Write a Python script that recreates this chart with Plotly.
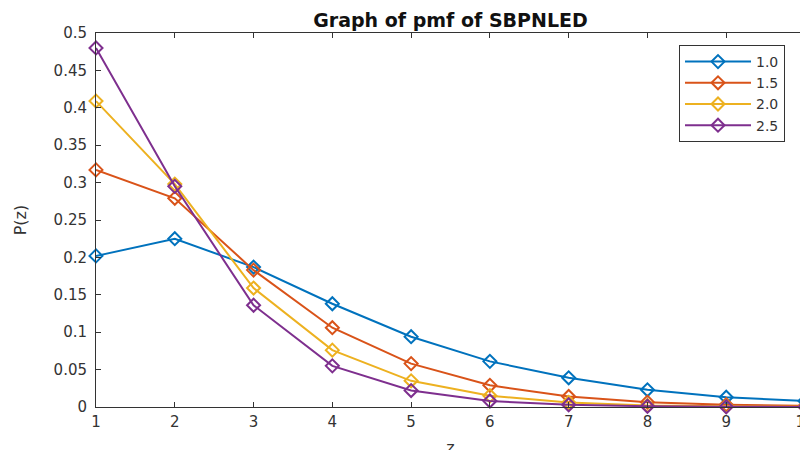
import plotly.graph_objects as go

z = [1, 2, 3, 4, 5, 6, 7, 8, 9, 10]
series_names = ["1.0", "1.5", "2.0", "2.5"]
p_10 = [0.202, 0.225, 0.187, 0.138, 0.094, 0.061, 0.039, 0.023, 0.013, 0.008]
p_15 = [0.317, 0.279, 0.183, 0.106, 0.058, 0.029, 0.014, 0.0065, 0.003, 0.0015]
p_20 = [0.409, 0.298, 0.159, 0.076, 0.035, 0.015, 0.006, 0.002, 0.001, 0.0004]
p_25 = [0.480, 0.295, 0.136, 0.055, 0.022, 0.008, 0.003, 0.001, 0.0003, 0.0001]
y_ticks = [0, 0.05, 0.1, 0.15, 0.2, 0.25, 0.3, 0.35, 0.4, 0.45, 0.5]
y_tick_labels = ["0", "0.05", "0.1", "0.15", "0.2", "0.25", "0.3", "0.35", "0.4", "0.45", "0.5"]
x_tick_labels = ["1", "2", "3", "4", "5", "6", "7", "8", "9", "10"]

colors = ["#0072BD", "#D95319", "#EDB120", "#7E2F8E"]
all_series = [p_10, p_15, p_20, p_25]

fig = go.Figure()
for name, vals, c in zip(series_names, all_series, colors):
    fig.add_trace(go.Scatter(
        x=z, y=vals, name=name, mode="lines+markers",
        line=dict(color=c, width=2),
        marker=dict(symbol="diamond-open", size=10, color=c, line=dict(width=2, color=c)),
        cliponaxis=False,
    ))

# the page body has an 8px margin, so figure coords = screen coords - 8
OFF = 8
W, H = 808, 450
L, R, T, B = 96 - OFF, 805 - OFF, 33 - OFF, 407 - OFF
font_family = "DejaVu Sans, Liberation Sans, Arial, sans-serif"
fig.update_layout(
    width=W, height=H,
    margin=dict(l=L, r=W - R, t=T, b=H - B, autoexpand=False),
    paper_bgcolor="white", plot_bgcolor="white",
    font=dict(family=font_family, size=15, color="#333333"),
    title=dict(text="<b>Graph of pmf of SBPNLED</b>", x=(L + R) / 2 / W, xanchor="center",
               y=1 - (20 - OFF) / H, yanchor="middle", font=dict(size=19, color="#111111")),
    showlegend=True,
    legend=dict(x=(785 - OFF - L) / (R - L), y=(B - (45 - OFF)) / (B - T),
                xanchor="right", yanchor="top",
                bgcolor="white", bordercolor="#333333", borderwidth=1,
                font=dict(size=14, color="#333333"),
                tracegroupgap=0, itemwidth=66),
    xaxis=dict(range=[1, 10], tickvals=z, ticktext=x_tick_labels,
               ticks="inside", ticklen=5, tickcolor="#333333",
               showline=True, linecolor="#333333", linewidth=1, mirror="ticks",
               showgrid=False, zeroline=False, automargin=False,
               ticklabelstandoff=1,
               title=dict(text="z", standoff=11, font=dict(size=16))),
    yaxis=dict(range=[0, 0.5], tickvals=y_ticks, ticktext=y_tick_labels,
               ticks="inside", ticklen=5, tickcolor="#333333",
               showline=True, linecolor="#333333", linewidth=1, mirror="ticks",
               showgrid=False, zeroline=False, automargin=False,
               ticklabelstandoff=5,
               title=dict(text="P(z)", standoff=22, font=dict(size=16))),
)

fig.write_html("out.html")
